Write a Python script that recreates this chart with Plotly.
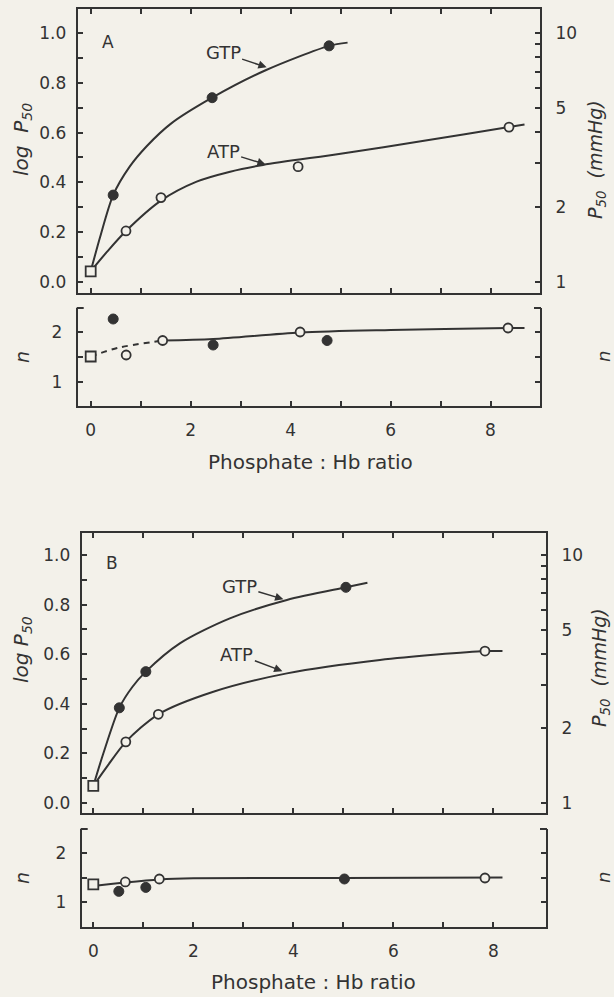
import plotly.graph_objects as go

# ---------------- data ----------------
# Panel A, log P50
a_gtp_x = [0.45, 2.43, 4.77]
a_gtp_y = [0.349, 0.74, 0.948]
a_atp_x = [0.706, 1.406, 4.15, 8.37]
a_atp_y = [0.205, 0.339, 0.463, 0.622]
a_sq_x = [0.0]
a_sq_y = [0.043]
a_gtp_curve_x = [0.0, 0.19, 0.45, 0.78, 1.12, 1.6, 2.43, 3.5, 4.77, 5.14]
a_gtp_curve_y = [0.043, 0.182, 0.349, 0.463, 0.545, 0.635, 0.74, 0.85, 0.948, 0.961]
a_atp_curve_x = [0.0, 0.32, 0.706, 1.406, 2.12, 2.79, 3.45, 5.0, 6.7, 8.37, 8.68]
a_atp_curve_y = [0.043, 0.12, 0.205, 0.327, 0.403, 0.443, 0.47, 0.515, 0.568, 0.622, 0.632]
# Panel A, n
a_n_gtp_x = [0.45, 2.45, 4.73]
a_n_gtp_y = [2.26, 1.74, 1.83]
a_n_atp_x = [0.71, 1.44, 4.19, 8.35]
a_n_atp_y = [1.54, 1.83, 2.0, 2.08]
a_n_sq_x = [0.0]
a_n_sq_y = [1.51]
a_n_dash_x = [0.0, 0.53, 1.44]
a_n_dash_y = [1.51, 1.68, 1.83]
a_n_line_x = [1.44, 2.45, 4.19, 6.0, 8.35, 8.68]
a_n_line_y = [1.83, 1.86, 1.99, 2.04, 2.08, 2.08]

# Panel B, log P50
b_gtp_x = [0.52, 1.05, 5.05]
b_gtp_y = [0.384, 0.53, 0.87]
b_atp_x = [0.65, 1.30, 7.83]
b_atp_y = [0.247, 0.358, 0.613]
b_sq_x = [0.0]
b_sq_y = [0.069]
b_gtp_curve_x = [0.0, 0.2, 0.52, 0.78, 1.05, 1.73, 2.73, 3.87, 5.05, 5.48]
b_gtp_curve_y = [0.069, 0.2, 0.384, 0.468, 0.53, 0.644, 0.745, 0.819, 0.87, 0.888]
b_atp_curve_x = [0.0, 0.27, 0.65, 1.30, 2.4, 3.87, 5.73, 7.83, 8.18]
b_atp_curve_y = [0.069, 0.146, 0.247, 0.358, 0.449, 0.523, 0.577, 0.613, 0.613]
# Panel B, n
b_n_gtp_x = [0.51, 1.05, 5.02]
b_n_gtp_y = [1.22, 1.30, 1.47]
b_n_atp_x = [0.64, 1.32, 7.83]
b_n_atp_y = [1.41, 1.47, 1.49]
b_n_sq_x = [0.0]
b_n_sq_y = [1.36]
b_n_line_x = [0.0, 0.64, 1.32, 2.0, 5.0, 8.18]
b_n_line_y = [1.33, 1.40, 1.46, 1.485, 1.49, 1.50]

# tick labels
x_ticks = [0, 1, 2, 3, 4, 5, 6, 7, 8]
x_tick_text = ["0", "", "2", "", "4", "", "6", "", "8"]
logp_ticks = [0.0, 0.1, 0.2, 0.3, 0.4, 0.5, 0.6, 0.7, 0.8, 0.9, 1.0]
logp_tick_text = ["0.0", "", "0.2", "", "0.4", "", "0.6", "", "0.8", "", "1.0"]
p50_ticks = [1, 2, 3, 4, 5, 6, 7, 8, 9, 10]
p50_tick_text = ["1", "2", "", "", "5", "", "", "", "", "10"]
n_ticks = [1.0, 1.5, 2.0]
n_tick_text = ["1", "", "2"]

# ---------------- styling / layout ----------------
W, H = 614, 997
BG = "#f3f1ea"
INK = "#333333"
FONT = "DejaVu Sans"


def px_x(p):
    return p / W


def px_y(p):
    return 1 - p / H


fig = go.Figure()


def curve(x, y, xa, ya, dash="solid"):
    fig.add_trace(go.Scatter(x=x, y=y, xaxis=xa, yaxis=ya, mode="lines",
                             line=dict(color=INK, width=2, shape="spline",
                                       smoothing=0.8, dash=dash),
                             hoverinfo="skip", showlegend=False))


def pts(x, y, xa, ya, kind):
    if kind == "filled":
        m = dict(symbol="circle", size=10, color=INK, line=dict(color=INK, width=1))
    elif kind == "open":
        m = dict(symbol="circle", size=9, color=BG, line=dict(color=INK, width=1.8))
    else:
        m = dict(symbol="square", size=10, color=BG, line=dict(color=INK, width=1.8))
    fig.add_trace(go.Scatter(x=x, y=y, xaxis=xa, yaxis=ya, mode="markers",
                             marker=m, showlegend=False))


# Panel A log
curve(a_gtp_curve_x, a_gtp_curve_y, "x", "y")
curve(a_atp_curve_x, a_atp_curve_y, "x", "y")
pts(a_gtp_x, a_gtp_y, "x", "y", "filled")
pts(a_atp_x, a_atp_y, "x", "y", "open")
pts(a_sq_x, a_sq_y, "x", "y", "square")
# right-hand P50 axis of panel A (no marks of its own)
fig.add_trace(go.Scatter(x=[], y=[], xaxis="x", yaxis="y2", mode="markers",
                         showlegend=False, hoverinfo="skip"))
# Panel A n
curve(a_n_dash_x, a_n_dash_y, "x2", "y3", dash="6px,5px")
curve(a_n_line_x, a_n_line_y, "x2", "y3")
pts(a_n_gtp_x, a_n_gtp_y, "x2", "y3", "filled")
pts(a_n_atp_x, a_n_atp_y, "x2", "y3", "open")
pts(a_n_sq_x, a_n_sq_y, "x2", "y3", "square")
# Panel B log
curve(b_gtp_curve_x, b_gtp_curve_y, "x3", "y4")
curve(b_atp_curve_x, b_atp_curve_y, "x3", "y4")
pts(b_gtp_x, b_gtp_y, "x3", "y4", "filled")
pts(b_atp_x, b_atp_y, "x3", "y4", "open")
pts(b_sq_x, b_sq_y, "x3", "y4", "square")
fig.add_trace(go.Scatter(x=[], y=[], xaxis="x3", yaxis="y5", mode="markers",
                         showlegend=False, hoverinfo="skip"))
# Panel B n
curve(b_n_line_x, b_n_line_y, "x4", "y6")
pts(b_n_gtp_x, b_n_gtp_y, "x4", "y6", "filled")
pts(b_n_atp_x, b_n_atp_y, "x4", "y6", "open")
pts(b_n_sq_x, b_n_sq_y, "x4", "y6", "square")

# geometry (pixels)
A_L, A_R = 77.7, 540.0
B_L, B_R = 81.7, 546.0
A_LOG_T, A_LOG_B = 9, 293
A_N_T, A_N_B = 308, 406
B_LOG_T, B_LOG_B = 533, 813
B_N_T, B_N_B = 829, 927

tickfont = dict(family=FONT, size=17, color=INK)
common = dict(showline=True, linecolor=INK, linewidth=2, ticks="inside",
              ticklen=5, tickwidth=1.5, tickcolor=INK, showgrid=False,
              zeroline=False, fixedrange=True, tickfont=tickfont)

layout = dict(
    width=W, height=H, margin=dict(l=0, r=0, t=0, b=0),
    paper_bgcolor=BG, plot_bgcolor=BG, showlegend=False,
    font=dict(family=FONT, color=INK),
    # Panel A log
    xaxis=dict(domain=[px_x(A_L), px_x(A_R)], anchor="y", range=[-0.26, 8.99],
               tickvals=x_ticks, showticklabels=False, mirror="ticks", **common),
    yaxis=dict(domain=[px_y(A_LOG_B), px_y(A_LOG_T)], anchor="x",
               range=[-0.044, 1.096], tickvals=logp_ticks, ticktext=logp_tick_text,
               ticklabelstandoff=6, **common),
    yaxis2=dict(overlaying="y", side="right", anchor="x", type="log",
                range=[-0.044, 1.096], tickvals=p50_ticks, ticktext=p50_tick_text,
                ticklabelstandoff=10, **common),
    # Panel A n
    xaxis2=dict(domain=[px_x(A_L), px_x(A_R)], anchor="y3", range=[-0.26, 8.99],
                tickvals=x_ticks, ticktext=x_tick_text, ticklabelstandoff=8, **common),
    yaxis3=dict(domain=[px_y(A_N_B), px_y(A_N_T)], anchor="x2", range=[0.52, 2.48],
                tickvals=n_ticks, ticktext=n_tick_text, mirror="ticks",
                ticklabelstandoff=10, **common),
    # Panel B log
    xaxis3=dict(domain=[px_x(B_L), px_x(B_R)], anchor="y4", range=[-0.232, 9.05],
                tickvals=x_ticks, showticklabels=False, mirror="ticks", **common),
    yaxis4=dict(domain=[px_y(B_LOG_B), px_y(B_LOG_T)], anchor="x3",
                range=[-0.04, 1.089], tickvals=logp_ticks, ticktext=logp_tick_text,
                ticklabelstandoff=6, **common),
    yaxis5=dict(overlaying="y4", side="right", anchor="x3", type="log",
                range=[-0.04, 1.089], tickvals=p50_ticks, ticktext=p50_tick_text,
                ticklabelstandoff=10, **common),
    # Panel B n
    xaxis4=dict(domain=[px_x(B_L), px_x(B_R)], anchor="y6", range=[-0.232, 9.05],
                tickvals=x_ticks, ticktext=x_tick_text, ticklabelstandoff=8, **common),
    yaxis6=dict(domain=[px_y(B_N_B), px_y(B_N_T)], anchor="x4", range=[0.5, 2.48],
                tickvals=n_ticks, ticktext=n_tick_text, mirror="ticks",
                ticklabelstandoff=10, **common),
)
fig.update_layout(**layout)

# serifs at the top of the n-panel frames
shapes = []
for (l, r, t) in [(A_L, A_R, A_N_T), (B_L, B_R, B_N_T)]:
    shapes.append(dict(type="line", xref="paper", yref="paper",
                       x0=px_x(l - 1), x1=px_x(l + 6), y0=px_y(t), y1=px_y(t),
                       line=dict(color=INK, width=2)))
    shapes.append(dict(type="line", xref="paper", yref="paper",
                       x0=px_x(r - 6), x1=px_x(r + 1), y0=px_y(t), y1=px_y(t),
                       line=dict(color=INK, width=2)))
fig.update_layout(shapes=shapes)

ann = []


def text(x, y, s, angle=0, size=17):
    ann.append(dict(x=px_x(x), y=px_y(y), xref="paper", yref="paper", text=s,
                    showarrow=False, textangle=angle, xanchor="center",
                    yanchor="middle",
                    font=dict(family=FONT, size=size, color=INK)))


# axis titles
text(22, 140, "<i>log  P<sub>50</sub></i>", -90, 20)
text(597, 160, "<i>P<sub>50</sub>  (mmHg)</i>", -90, 19)
text(22, 357, "<i>n</i>", -90, 19)
text(603, 357, "<i>n</i>", -90, 18)
text(310, 462, "Phosphate : Hb ratio", 0, 20)
text(22, 650, "<i>log P<sub>50</sub></i>", -90, 20)
text(600, 668, "<i>P<sub>50</sub>  (mmHg)</i>", -90, 19)
text(22, 878, "<i>n</i>", -90, 19)
text(603, 878, "<i>n</i>", -90, 18)
text(313, 982, "Phosphate : Hb ratio", 0, 20)
# panel letters
text(108, 42, "A", 0, 17)
text(112, 563, "B", 0, 17)


def arrow_label(xa, ya, tx, ty, hx, hy, s):
    ann.append(dict(xref=xa, yref=ya, axref=xa, ayref=ya, x=hx, y=hy, ax=tx, ay=ty,
                    text=s, showarrow=True, arrowhead=2, arrowsize=1.1,
                    arrowwidth=1.5, arrowcolor=INK, standoff=0, startstandoff=0,
                    font=dict(family=FONT, size=18, color=INK)))


arrow_label("x", "y", 2.65, 0.92, 3.52, 0.862, "GTP")
arrow_label("x", "y", 2.65, 0.525, 3.50, 0.472, "ATP")
arrow_label("x3", "y4", 2.92, 0.875, 3.80, 0.822, "GTP")
arrow_label("x3", "y4", 2.87, 0.601, 3.78, 0.532, "ATP")

fig.update_layout(annotations=ann)
fig.write_html("out.html")
